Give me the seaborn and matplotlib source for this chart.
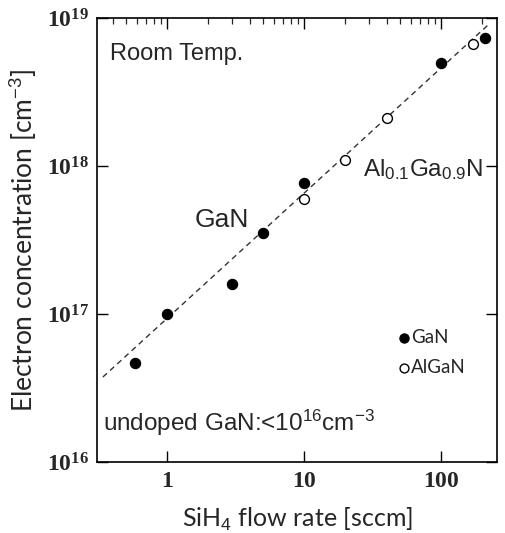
import numpy as np
import pandas as pd
import matplotlib
matplotlib.use("Agg")
import matplotlib.pyplot as plt
import seaborn as sns
from matplotlib.ticker import FixedLocator, FuncFormatter, LogLocator, NullFormatter

# data (SiH4 flow in sccm, electron conc. in cm^-3)
gan_flow = [0.58, 1.0, 3.0, 5.0, 10.0, 100.0, 210.0]
gan_conc = [4.7e16, 1.0e17, 1.6e17, 3.5e17, 7.7e17, 5.0e18, 7.3e18]
algan_flow = [10.0, 20.0, 40.0, 170.0]
algan_conc = [6.0e17, 1.1e18, 2.1e18, 6.7e18]
fit_flow = [0.34, 224.0]
fit_conc = [3.75e16, 9.1e18]

x_ticks = [1, 10, 100]
y_ticks = [1e16, 1e17, 1e18, 1e19]

sns.set_theme(style="ticks")
plt.rcParams['font.family'] = ['Liberation Sans', 'DejaVu Sans']
# sans for sub/superscripts in annotations, bold serif for tick labels
plt.rcParams['mathtext.fontset'] = 'custom'
plt.rcParams['mathtext.rm'] = 'Liberation Sans'
plt.rcParams['mathtext.it'] = 'Liberation Sans:italic'
plt.rcParams['mathtext.bf'] = 'Liberation Serif:bold'

fig = plt.figure(figsize=(5.06, 5.33), dpi=100)
ax = fig.add_axes([0.1917, 0.1332, 0.7905, 0.833])

df_gan = pd.DataFrame({'flow': gan_flow, 'conc': gan_conc})
df_algan = pd.DataFrame({'flow': algan_flow, 'conc': algan_conc})

ax.plot(fit_flow, fit_conc, color='#333333', linestyle=(0, (4, 3)), linewidth=1.0, zorder=1)
sns.scatterplot(data=df_gan, x='flow', y='conc', ax=ax, color='black', s=55,
                edgecolor='black', linewidth=0.8, label='GaN', zorder=3)
sns.scatterplot(data=df_algan, x='flow', y='conc', ax=ax, facecolor='white', s=50,
                edgecolor='black', linewidth=1.0, label='AlGaN', zorder=3)

ax.set_xscale('log')
ax.set_yscale('log')
ax.set_xlim(0.308, 256)
ax.set_ylim(1e16, 1e19)

ax.xaxis.set_major_locator(FixedLocator(x_ticks))
ax.xaxis.set_major_formatter(FuncFormatter(lambda v, p: r'$\mathbf{%d}$' % v))
ax.xaxis.set_minor_locator(LogLocator(base=10, subs=np.arange(2, 10)))
ax.xaxis.set_minor_formatter(NullFormatter())
ax.yaxis.set_major_locator(FixedLocator(y_ticks))
ax.yaxis.set_major_formatter(FuncFormatter(lambda v, p: r'$\mathbf{10^{%d}}$' % round(np.log10(v))))
ax.yaxis.set_minor_locator(FixedLocator([]))

ax.tick_params(axis='both', which='major', direction='in', length=8, width=1.0,
               labelsize=17, color='black', pad=6)
ax.tick_params(axis='x', which='minor', direction='in', length=4, width=0.9,
               top=True, bottom=False)
ax.tick_params(axis='x', which='major', top=True)
ax.tick_params(axis='y', which='major', right=True)
for sp in ax.spines.values():
    sp.set_color('black')
    sp.set_linewidth(1.2)

ax.set_xlabel('SiH$_4$ flow rate [sccm]', fontsize=18, family=['Lato', 'DejaVu Sans'], labelpad=10)
ax.set_ylabel('Electron concentration [cm$^{-3}$]', fontsize=19, family=['Lato', 'DejaVu Sans'], labelpad=5)

ax.text(0.033, 0.92, 'Room Temp.', transform=ax.transAxes, fontsize=17, va='center', ha='left')
ax.text(0.245, 0.545, 'GaN', transform=ax.transAxes, fontsize=19, va='center', ha='left')
ax.text(0.665, 0.658, 'Al$_{0.1}$Ga$_{0.9}$N', transform=ax.transAxes, fontsize=17.5,
        va='center', ha='left')
ax.text(0.015, 0.088, 'undoped GaN:<10$^{16}$cm$^{-3}$', transform=ax.transAxes, fontsize=17.5,
        va='center', ha='left')

leg = ax.legend(loc='upper left', bbox_to_anchor=(0.72, 0.33), frameon=False,
                handlelength=0.6, handletextpad=0.1, labelspacing=0.7, borderpad=0.2,
                markerscale=0.9, prop={'family': ['Lato', 'DejaVu Sans'], 'size': 13.5})

fig.savefig('out.png', dpi=100)
